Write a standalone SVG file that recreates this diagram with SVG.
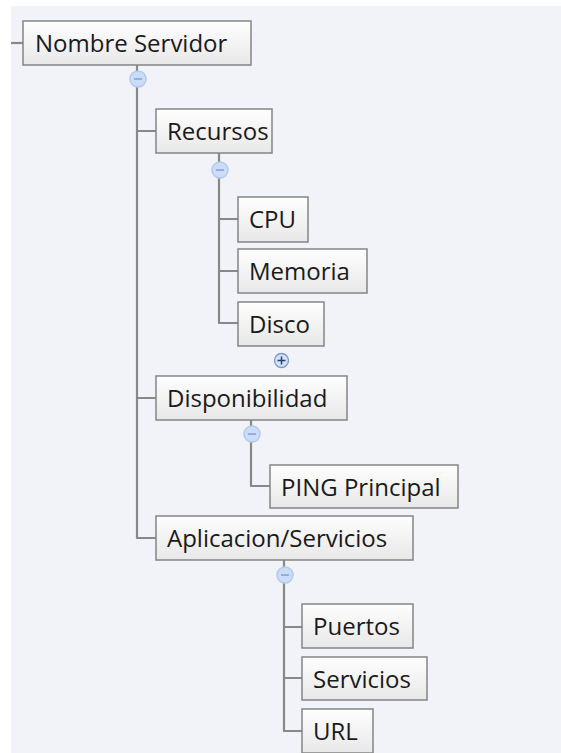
<svg xmlns="http://www.w3.org/2000/svg" width="561" height="753" viewBox="0 0 561 753">
<defs>
<linearGradient id="nodeFill" x1="0" y1="0" x2="0" y2="1">
<stop offset="0" stop-color="#fefefe"/>
<stop offset="1" stop-color="#e8e8e8"/>
</linearGradient>
</defs>
<style>
.box{fill:url(#nodeFill);stroke:#858585;stroke-width:1.5}
.lbl{font-family:"Open Sans","DejaVu Sans",sans-serif;font-size:24px;fill:#1a1a1a}
.conn{fill:none;stroke:#888888;stroke-width:2.2;stroke-linejoin:round}
.minus{fill:#cadcf7;stroke:#b2caee;stroke-width:1.5}
.minusbar{stroke:#8aa4d0;stroke-width:1.6}
.plus{fill:#d3e1f5;stroke:#7c98c6;stroke-width:1.3}
.plusbar{stroke:#253f78;stroke-width:1.5}
</style>
<rect x="0" y="0" width="561" height="753" fill="#ffffff"/>
<rect x="11" y="6" width="550" height="747" fill="#f2f3f8"/>
<g id="connectors">
<path class="conn" d="M11 43 H23"/>
<path class="conn" d="M137 65 V538 H156 M137 131 H156 M137 398 H156"/>
<path class="conn" d="M219 153 V323 H238 M219 219 H238 M219 271 H238"/>
<path class="conn" d="M251 420 V486 H270"/>
<path class="conn" d="M284 560 V731 H302 M284 627 H302 M284 678 H302"/>
<g id="toggles">
<circle class="minus" cx="138" cy="79" r="8"/><path class="minusbar" d="M134 79 H142"/>
<circle class="minus" cx="220" cy="170" r="8"/><path class="minusbar" d="M216 170 H224"/>
<circle class="plus" cx="281.5" cy="360.5" r="7"/><path class="plusbar" d="M277.5 360.5 H285.5 M281.5 356.5 V364.5"/>
<circle class="minus" cx="252" cy="434" r="8"/><path class="minusbar" d="M248 434 H256"/>
<circle class="minus" cx="285" cy="575" r="8"/><path class="minusbar" d="M281 575 H289"/>
</g>
</g>
<g id="n-nombre"><rect class="box" x="23" y="21" width="228" height="44"/><text class="lbl" x="35" y="52">Nombre Servidor</text></g>
<g id="n-recursos"><rect class="box" x="156" y="109" width="116" height="44"/><text class="lbl" x="167" y="140">Recursos</text></g>
<g id="n-cpu"><rect class="box" x="238" y="197" width="70" height="45"/><text class="lbl" x="249" y="228">CPU</text></g>
<g id="n-memoria"><rect class="box" x="238" y="249" width="129" height="44"/><text class="lbl" x="249" y="280">Memoria</text></g>
<g id="n-disco"><rect class="box" x="238" y="302" width="86" height="44"/><text class="lbl" x="249" y="333">Disco</text></g>
<g id="n-disponibilidad"><rect class="box" x="156" y="376" width="191" height="44"/><text class="lbl" x="167" y="407">Disponibilidad</text></g>
<g id="n-ping"><rect class="box" x="270" y="465" width="188" height="43"/><text class="lbl" x="281" y="496">PING Principal</text></g>
<g id="n-aplicacion"><rect class="box" x="156" y="516" width="257" height="44"/><text class="lbl" x="167" y="547">Aplicacion/Servicios</text></g>
<g id="n-puertos"><rect class="box" x="302" y="604" width="111" height="44"/><text class="lbl" x="313" y="635">Puertos</text></g>
<g id="n-servicios"><rect class="box" x="302" y="657" width="125" height="43"/><text class="lbl" x="313" y="688">Servicios</text></g>
<g id="n-url"><rect class="box" x="302" y="709" width="71" height="44"/><text class="lbl" x="313" y="740">URL</text></g>
</svg>
